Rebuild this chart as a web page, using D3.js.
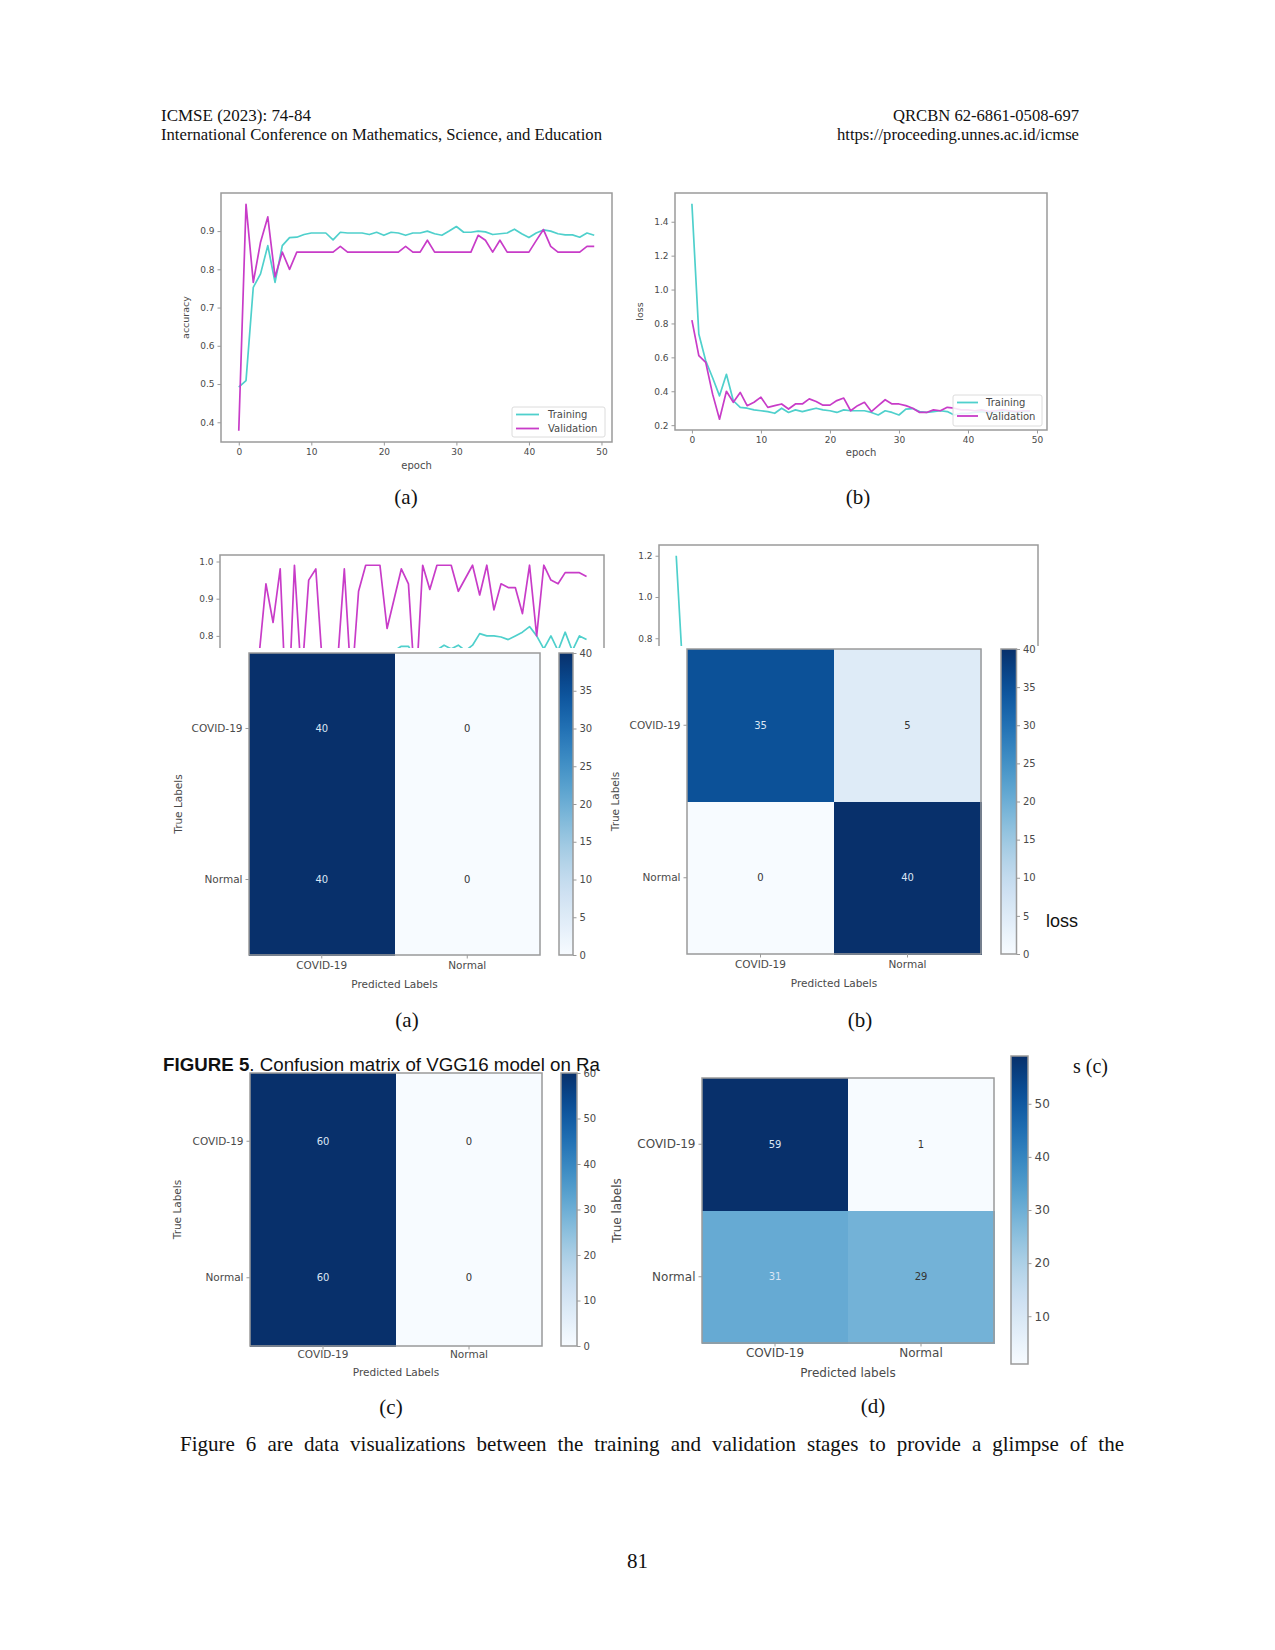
<!DOCTYPE html>
<html>
<head>
<meta charset="utf-8">
<script src="https://cdn.jsdelivr.net/npm/d3@7"></script>
<style>
  body { margin: 0; background: #fff; }
  svg text { font-family: "DejaVu Sans", sans-serif; }
</style>
</head>
<body>
<div id="page"></div>
<script>
// ---- data ----
const classLabels = ["COVID-19", "Normal"];
const epochTicks  = [0, 10, 20, 30, 40, 50];
const accTicks    = [0.4, 0.5, 0.6, 0.7, 0.8, 0.9];
const lossTicks   = [0.2, 0.4, 0.6, 0.8, 1.0, 1.2, 1.4];
const midAccTicks = [0.8, 0.9, 1.0];
const midLossTicks = [0.8, 1.0, 1.2];

// (a) top: accuracy
const accTrain = [0.492,0.509,0.753,0.788,0.862,0.766,0.862,0.883,0.884,0.891,
                  0.895,0.895,0.895,0.877,0.897,0.895,0.895,0.895,0.891,0.897,
                  0.889,0.897,0.895,0.889,0.895,0.895,0.900,0.893,0.889,0.900,
                  0.912,0.897,0.897,0.900,0.898,0.891,0.893,0.895,0.905,0.893,
                  0.883,0.895,0.903,0.900,0.893,0.890,0.890,0.884,0.895,0.889];
const accVal   = [0.378,0.970,0.766,0.871,0.937,0.780,0.845,0.800,0.845,0.845,
                  0.845,0.845,0.845,0.845,0.860,0.845,0.845,0.845,0.845,0.845,
                  0.845,0.845,0.845,0.860,0.845,0.845,0.876,0.845,0.845,0.845,
                  0.845,0.845,0.845,0.889,0.876,0.845,0.876,0.845,0.845,0.845,
                  0.845,0.875,0.904,0.860,0.845,0.845,0.845,0.845,0.860,0.860];
// (b) top: loss
const lossTrain = [1.506,0.738,0.580,0.480,0.373,0.500,0.344,0.305,0.300,0.290,
                   0.285,0.280,0.270,0.300,0.275,0.290,0.280,0.290,0.300,0.290,
                   0.285,0.275,0.290,0.285,0.285,0.285,0.275,0.260,0.285,0.275,
                   0.260,0.295,0.298,0.280,0.275,0.280,0.285,0.280,0.260,0.270,
                   0.270,0.275,0.280,0.270,0.275,0.280,0.280,0.275,0.280,0.280];
const lossVal   = [0.820,0.610,0.570,0.383,0.235,0.400,0.335,0.393,0.315,0.335,
                   0.365,0.305,0.315,0.325,0.295,0.325,0.325,0.355,0.340,0.318,
                   0.318,0.345,0.360,0.285,0.315,0.335,0.280,0.315,0.350,0.325,
                   0.325,0.315,0.300,0.275,0.275,0.290,0.285,0.305,0.300,0.290,
                   0.290,0.285,0.290,0.280,0.285,0.290,0.285,0.280,0.285,0.285];
// second model (partly hidden behind the matrices)
const acc2Train = [0.450,0.500,0.550,0.580,0.600,0.620,0.630,0.650,0.660,0.670,
                   0.680,0.690,0.700,0.700,0.710,0.720,0.720,0.730,0.730,0.740,
                   0.740,0.750,0.760,0.772,0.772,0.740,0.750,0.760,0.762,0.775,
                   0.765,0.775,0.760,0.775,0.806,0.800,0.800,0.797,0.790,0.800,
                   0.810,0.825,0.800,0.765,0.800,0.760,0.810,0.760,0.800,0.790];
const acc2Val   = [0.440,0.620,0.550,0.740,0.940,0.836,0.980,0.530,0.990,0.680,
                   0.950,0.980,0.700,0.550,0.714,0.980,0.660,0.920,0.990,0.990,
                   0.990,0.820,0.900,0.980,0.940,0.640,0.990,0.925,0.990,0.990,
                   0.990,0.920,0.955,0.990,0.910,0.990,0.870,0.940,0.930,0.930,
                   0.860,0.990,0.800,0.990,0.950,0.940,0.970,0.970,0.970,0.960];
const loss2Train = [1.20,0.60,0.48,0.42,0.38,0.35,0.33,0.31,0.30,0.29,
                    0.28,0.27,0.26,0.26,0.25,0.24,0.24,0.23,0.23,0.22,
                    0.22,0.21,0.21,0.21,0.20,0.20,0.20,0.19,0.19,0.19,
                    0.19,0.18,0.18,0.18,0.18,0.17,0.17,0.17,0.17,0.17,
                    0.16,0.16,0.16,0.16,0.16,0.16,0.16,0.16,0.16,0.16];
const loss2Val   = [0.70,0.55,0.45,0.40,0.38,0.35,0.36,0.33,0.34,0.31,
                    0.32,0.30,0.31,0.29,0.30,0.28,0.29,0.28,0.27,0.28,
                    0.26,0.27,0.26,0.27,0.25,0.26,0.25,0.24,0.26,0.25,
                    0.24,0.25,0.24,0.23,0.24,0.23,0.24,0.22,0.23,0.22,
                    0.23,0.22,0.21,0.22,0.21,0.22,0.21,0.21,0.20,0.21];

// confusion matrices (rows = true, cols = predicted)
const cmA = [[40, 0], [40, 0]];
const cmB = [[35, 5], [0, 40]];
const cmC = [[60, 0], [60, 0]];
const cmD = [[59, 1], [31, 29]];
const cbTicks40 = [0, 5, 10, 15, 20, 25, 30, 35, 40];
const cbTicks60 = [0, 10, 20, 30, 40, 50, 60];
const cbTicksD  = [10, 20, 30, 40, 50];

const W = 1275, H = 1650;
const cyan = "#4fd0cc", magenta = "#c83cc8", spine = "#9a9a9a", ink = "#4a4a4a";
const serif = "'Liberation Serif', 'Times New Roman', serif";

const svg = d3.select("#page").append("svg")
  .attr("width", W).attr("height", H);
svg.append("rect").attr("width", W).attr("height", H).attr("fill", "#fff");

// ---- line chart, matplotlib style ----
function lineChart(cfg) {
  const g = svg.append("g");
  if (cfg.clipY) {
    const id = "clip" + cfg.id;
    svg.append("clipPath").attr("id", id)
      .append("rect").attr("x", 0).attr("y", 0).attr("width", W).attr("height", cfg.clipY);
    g.attr("clip-path", "url(#" + id + ")");
  }
  const n = cfg.series[0].values.length;
  const x = d3.scaleLinear().domain([-(n - 1) * 0.05, (n - 1) * 1.05]).range([cfg.x0, cfg.x1]);
  const all = cfg.series.flatMap(s => s.values);
  const ext = d3.extent(all), pad = (ext[1] - ext[0]) * 0.05;
  const y = d3.scaleLinear().domain([ext[0] - pad, ext[1] + pad]).range([cfg.y1, cfg.y0]);

  const line = d3.line().x((d, i) => x(i)).y(d => y(d));
  cfg.series.forEach(s => {
    g.append("path").datum(s.values)
      .attr("d", line).attr("fill", "none")
      .attr("stroke", s.color).attr("stroke-width", 1.7)
      .attr("stroke-linejoin", "round");
  });

  g.append("rect")
    .attr("x", cfg.x0).attr("y", cfg.y0)
    .attr("width", cfg.x1 - cfg.x0).attr("height", cfg.y1 - cfg.y0)
    .attr("fill", "none").attr("stroke", spine).attr("stroke-width", 1.5);

  const axes = [];
  axes.push(g.append("g").attr("transform", "translate(" + cfg.x0 + ",0)")
    .call(d3.axisLeft(y).tickValues(cfg.yTicks).tickFormat(d3.format(".1f")).tickSize(3.5).tickPadding(3)));
  if (!cfg.clipY) {
    axes.push(g.append("g").attr("transform", "translate(0," + cfg.y1 + ")")
      .call(d3.axisBottom(x).tickValues(epochTicks).tickSize(3.5).tickPadding(3)));
  }
  axes.forEach(a => {
    a.select(".domain").remove();
    a.selectAll("line").attr("stroke", spine);
    a.selectAll("text").attr("fill", ink).style("font-size", "9px");
  });

  if (cfg.xlabelY) {
    g.append("text").attr("x", (cfg.x0 + cfg.x1) / 2).attr("y", cfg.xlabelY)
      .attr("text-anchor", "middle").attr("fill", ink).style("font-size", "10px").text("epoch");
  }
  if (cfg.ylabel) {
    g.append("text")
      .attr("transform", "translate(" + cfg.ylabelX + "," + (cfg.y0 + cfg.y1) / 2 + ") rotate(-90)")
      .attr("text-anchor", "middle").attr("dy", "0.35em")
      .attr("fill", ink).style("font-size", "9.5px").text(cfg.ylabel);
  }

  if (cfg.legend) {
    const L = cfg.legend;
    g.append("rect").attr("x", L.x).attr("y", L.y).attr("width", L.w).attr("height", L.h)
      .attr("rx", 2).attr("fill", "#fff").attr("fill-opacity", 0.85)
      .attr("stroke", "#dcdcdc");
    cfg.series.forEach((s, i) => {
      const yy = L.y + L.rowY[i];
      g.append("line").attr("x1", L.hx0).attr("x2", L.hx1).attr("y1", yy).attr("y2", yy)
        .attr("stroke", s.color).attr("stroke-width", 1.8);
      g.append("text").attr("x", L.tx).attr("y", yy).attr("dy", "0.35em")
        .attr("fill", ink).style("font-size", "10px").text(s.name);
    });
  }
}

// ---- confusion matrix with colour bar ----
function confusion(cfg) {
  const g = svg.append("g");
  const x = d3.scaleBand().domain(classLabels).range([cfg.x0, cfg.x1]);
  const y = d3.scaleBand().domain(classLabels).range([cfg.y0, cfg.y1]);
  const color = d3.scaleSequential(d3.interpolateBlues).domain([cfg.vmin, cfg.vmax]);
  const mid = (cfg.vmin + cfg.vmax) / 2;

  const cells = cfg.matrix.flatMap((row, i) =>
    row.map((v, j) => ({ t: classLabels[i], p: classLabels[j], v: v })));

  g.selectAll("rect.cell").data(cells).enter().append("rect")
    .attr("class", "cell")
    .attr("x", d => x(d.p)).attr("y", d => y(d.t))
    .attr("width", x.bandwidth() + 0.5).attr("height", y.bandwidth() + 0.5)
    .attr("shape-rendering", "crispEdges")
    .attr("fill", d => color(d.v));

  g.selectAll("text.val").data(cells).enter().append("text")
    .attr("class", "val")
    .attr("x", d => x(d.p) + x.bandwidth() / 2)
    .attr("y", d => y(d.t) + y.bandwidth() / 2)
    .attr("text-anchor", "middle").attr("dy", "0.35em")
    .attr("fill", d => d.v > mid ? "#dbe6f4" : "#333")
    .style("font-size", "10px")
    .text(d => d.v);

  g.append("rect")
    .attr("x", cfg.x0).attr("y", cfg.y0)
    .attr("width", cfg.x1 - cfg.x0).attr("height", cfg.y1 - cfg.y0)
    .attr("fill", "none").attr("stroke", spine).attr("stroke-width", 1.5);

  const ya = g.append("g").attr("transform", "translate(" + cfg.x0 + ",0)")
    .call(d3.axisLeft(y).tickSize(3.5).tickPadding(3));
  const xa = g.append("g").attr("transform", "translate(0," + cfg.y1 + ")")
    .call(d3.axisBottom(x).tickSize(3.5).tickPadding(cfg.xPad));
  [ya, xa].forEach(a => {
    a.select(".domain").remove();
    a.selectAll("line").attr("stroke", spine);
    a.selectAll("text").attr("fill", ink).style("font-size", cfg.fs + "px");
  });

  g.append("text").attr("x", (cfg.x0 + cfg.x1) / 2).attr("y", cfg.xlabelY)
    .attr("text-anchor", "middle").attr("dy", "0.35em")
    .attr("fill", ink).style("font-size", cfg.fs + "px").text(cfg.xlabel);
  g.append("text")
    .attr("transform", "translate(" + cfg.ylabelX + "," + (cfg.y0 + cfg.y1) / 2 + ") rotate(-90)")
    .attr("text-anchor", "middle").attr("dy", "0.35em")
    .attr("fill", ink).style("font-size", cfg.fs + "px").text(cfg.ylabel);

  // colour bar
  const cb = cfg.cb;
  const gid = "grad" + cfg.id;
  const grad = svg.append("defs").append("linearGradient").attr("id", gid)
    .attr("x1", 0).attr("x2", 0).attr("y1", 1).attr("y2", 0);
  d3.range(0, 1.001, 0.05).forEach(t => {
    grad.append("stop").attr("offset", t).attr("stop-color", d3.interpolateBlues(t));
  });
  g.append("rect").attr("x", cb.x0).attr("y", cb.y0)
    .attr("width", cb.x1 - cb.x0).attr("height", cb.y1 - cb.y0)
    .attr("fill", "url(#" + gid + ")").attr("stroke", spine).attr("stroke-width", 1.5);
  const cs = d3.scaleLinear().domain([cfg.vmin, cfg.vmax]).range([cb.y1, cb.y0]);
  const ca = g.append("g").attr("transform", "translate(" + cb.x1 + ",0)")
    .call(d3.axisRight(cs).tickValues(cfg.cbTicks).tickSize(3.5).tickPadding(3));
  ca.select(".domain").remove();
  ca.selectAll("line").attr("stroke", spine);
  ca.selectAll("text").attr("fill", ink).style("font-size", cfg.cbfs + "px");
}

// ---- page text helper ----
function ptext(x, y, s, size, opts) {
  const t = svg.append("text").attr("x", x).attr("y", y)
    .style("font-family", serif).style("font-size", size + "px")
    .attr("fill", "#111").text(s);
  if (opts && opts.len) t.attr("textLength", opts.len).attr("lengthAdjust", "spacingAndGlyphs");
  if (opts && opts.anchor) t.attr("text-anchor", opts.anchor);
  return t;
}
ptext(161, 121, "ICMSE  (2023): 74-84", 16, { len: 150 });
ptext(161, 140, "International Conference on Mathematics, Science, and Education", 16, { len: 441 });
ptext(893, 121, "QRCBN 62-6861-0508-697", 16, { len: 186 });
ptext(837, 140, "https://proceeding.unnes.ac.id/icmse", 16, { len: 242 });

// ---- top row: accuracy / loss ----
lineChart({
  id: "acc", x0: 221, y0: 193, x1: 612, y1: 442,
  series: [{ name: "Training", values: accTrain, color: cyan },
           { name: "Validation", values: accVal, color: magenta }],
  yTicks: accTicks, xlabelY: 469, ylabel: "accuracy", ylabelX: 186,
  legend: { x: 512, y: 407, w: 93, h: 30, rowY: [7.5, 21.5], hx0: 516, hx1: 539, tx: 548 }
});
lineChart({
  id: "loss", x0: 675, y0: 193, x1: 1047, y1: 430,
  series: [{ name: "Training", values: lossTrain, color: cyan },
           { name: "Validation", values: lossVal, color: magenta }],
  yTicks: lossTicks, xlabelY: 456, ylabel: "loss", ylabelX: 640,
  legend: { x: 953, y: 395, w: 89, h: 31, rowY: [7.5, 21], hx0: 957, hx1: 978, tx: 986 }
});
ptext(406, 504, "(a)", 21, { anchor: "middle" });
ptext(858, 504, "(b)", 21, { anchor: "middle" });

// ---- middle row: second model curves, mostly covered ----
lineChart({
  id: "acc2", x0: 220, y0: 555, x1: 604, y1: 780, clipY: 648,
  series: [{ name: "Training", values: acc2Train, color: cyan },
           { name: "Validation", values: acc2Val, color: magenta }],
  yTicks: midAccTicks
});
lineChart({
  id: "loss2", x0: 659, y0: 545, x1: 1038, y1: 781, clipY: 646,
  series: [{ name: "Training", values: loss2Train, color: cyan },
           { name: "Validation", values: loss2Val, color: magenta }],
  yTicks: midLossTicks
});

// ---- confusion matrices ----
confusion({
  id: "A", matrix: cmA, vmin: 0, vmax: 40,
  x0: 249, y0: 653, x1: 540, y1: 955,
  cb: { x0: 559, x1: 573, y0: 653, y1: 955 }, cbTicks: cbTicks40,
  xlabel: "Predicted Labels", ylabel: "True Labels",
  xlabelY: 984, ylabelX: 178, xPad: 3, fs: 10.5, cbfs: 10
});
confusion({
  id: "B", matrix: cmB, vmin: 0, vmax: 40,
  x0: 687, y0: 649, x1: 981, y1: 954,
  cb: { x0: 1001, x1: 1016.5, y0: 649, y1: 954 }, cbTicks: cbTicks40,
  xlabel: "Predicted Labels", ylabel: "True Labels",
  xlabelY: 983, ylabelX: 615, xPad: 3, fs: 10.5, cbfs: 10
});
confusion({
  id: "C", matrix: cmC, vmin: 0, vmax: 60,
  x0: 250, y0: 1073, x1: 542, y1: 1346,
  cb: { x0: 561, x1: 577, y0: 1073, y1: 1346 }, cbTicks: cbTicks60,
  xlabel: "Predicted Labels", ylabel: "True Labels",
  xlabelY: 1372, ylabelX: 177, xPad: 1, fs: 10.5, cbfs: 10
});
confusion({
  id: "D", matrix: cmD, vmin: 1, vmax: 59,
  x0: 702, y0: 1078, x1: 994, y1: 1343,
  cb: { x0: 1011, x1: 1028, y0: 1056, y1: 1364 }, cbTicks: cbTicksD,
  xlabel: "Predicted labels", ylabel: "True labels",
  xlabelY: 1373, ylabelX: 617, xPad: 2, fs: 12, cbfs: 12
});

ptext(407, 1027, "(a)", 21, { anchor: "middle" });
ptext(860, 1027, "(b)", 21, { anchor: "middle" });
ptext(391, 1414, "(c)", 21, { anchor: "middle" });
ptext(873, 1413, "(d)", 21, { anchor: "middle" });

// stray overlapping captions
svg.append("text").attr("x", 1046).attr("y", 927)
  .style("font-family", "'Liberation Sans', Arial, sans-serif").style("font-size", "18px")
  .attr("fill", "#111").text("loss");
ptext(1073, 1073, "s (c)", 20);

const cap = svg.append("text").attr("x", 163).attr("y", 1071)
  .style("font-family", "'Liberation Sans', Arial, sans-serif").style("font-size", "17.5px")
  .attr("fill", "#111").attr("textLength", 437).attr("lengthAdjust", "spacingAndGlyphs");
cap.append("tspan").style("font-weight", "bold").text("FIGURE 5");
cap.append("tspan").text(". Confusion matrix of VGG16 model on Ra");

// ---- body text, justified ----
const bodyWords = "Figure 6 are data visualizations between the training and validation stages to provide a glimpse of the".split(" ");
const bx0 = 180, bx1 = 1124, by = 1451;
const wNodes = bodyWords.map(w => ptext(0, by, w, 21));
const widths = wNodes.map(t => t.node().getComputedTextLength());
const gap = (bx1 - bx0 - d3.sum(widths)) / (bodyWords.length - 1);
let cx = bx0;
wNodes.forEach((t, i) => { t.attr("x", cx); cx += widths[i] + gap; });

ptext(637.5, 1568, "81", 21, { anchor: "middle" });
</script>
</body>
</html>
